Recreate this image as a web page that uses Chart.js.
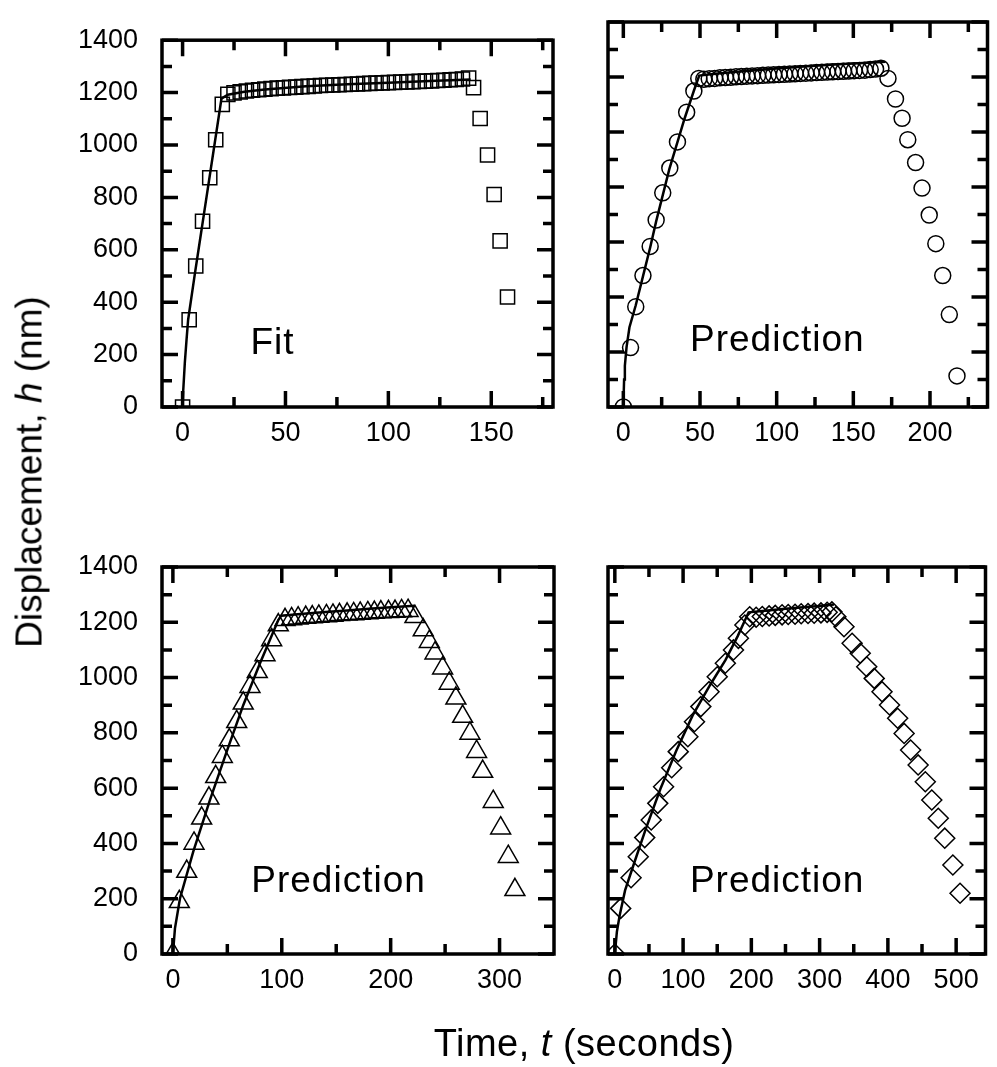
<!DOCTYPE html>
<html>
<head>
<meta charset="utf-8">
<script src="https://cdn.jsdelivr.net/npm/chart.js@4.4.0/dist/chart.umd.min.js"></script>
<style>
  body { margin: 0; background: #fff; }
  #page { position: relative; width: 997px; height: 1067px; overflow: hidden;
          font-family: "Liberation Sans", Arial, sans-serif; }
  #page canvas { position: absolute; left: 0; top: 0; }
  .title { position: absolute; white-space: nowrap; font-size: 37px; color: #000; line-height: 1; }
  #ytitle { left: 29px; top: 472px; transform: translate(-50%, -50%) rotate(-90deg); }
  #xtitle { left: 584px; top: 1043px; transform: translate(-50%, -50%); font-size: 38px; letter-spacing: 0.5px; }
</style>
</head>
<body>
<div id="page">
  <canvas id="c1" width="997" height="1067"></canvas>
  <canvas id="c2" width="997" height="1067"></canvas>
  <canvas id="c3" width="997" height="1067"></canvas>
  <canvas id="c4" width="997" height="1067"></canvas>
  <div class="title" id="ytitle">Displacement, <i>h</i> (nm)</div>
  <div class="title" id="xtitle">Time, <i>t</i> (seconds)</div>
</div>
<script>
// ---- tick values ----
const yMajor = [0, 200, 400, 600, 800, 1000, 1200, 1400];
const yMinor = [100, 300, 500, 700, 900, 1100, 1300];
const tlXMajor = [0, 50, 100, 150];
const tlXMinor = [25, 75, 125, 175];
const trXMajor = [0, 50, 100, 150, 200];
const trXMinor = [25, 75, 125, 175, 225];
const blXMajor = [0, 100, 200, 300];
const blXMinor = [50, 150, 250];
const brXMajor = [0, 100, 200, 300, 400, 500];
const brXMinor = [50, 150, 250, 350, 450];

// ---- top left: fit (squares) ----
const tlTime = [0, 3.2, 6.4, 9.7, 13.2, 16.1, 19.3,
  22, 25, 28, 31, 34, 37, 40, 43, 46, 49, 52, 55, 58, 61, 64, 67, 70, 73, 76, 79,
  82, 85, 88, 91, 94, 97, 100, 103, 106, 109, 112, 115, 118, 121, 124, 127, 130, 133, 136, 139,
  141.4, 144.6, 148.2, 151.4, 154.3, 157.9];
const tlDisp = [0, 333, 538, 709, 875, 1020, 1155,
  1193, 1199, 1203, 1206, 1209, 1211, 1213, 1215, 1217, 1218, 1220, 1221, 1223, 1224, 1225, 1227, 1228, 1229, 1230, 1231,
  1232, 1233, 1234, 1235, 1236, 1237, 1238, 1239, 1240, 1241, 1242, 1243, 1244, 1245, 1246, 1247, 1249, 1250, 1252, 1255,
  1219, 1101, 962, 811, 634, 420];
const tlLineTime = [0, 0.3, 1.1, 1.9, 2.7, 6, 9, 12, 15, 18.9, 22, 30, 40, 60, 80, 100, 120, 140];
const tlLineDisp = [0, 60, 170, 254, 333, 510, 665, 820, 975, 1177, 1192, 1203, 1212, 1224, 1232, 1238, 1244, 1250];

// ---- top right: prediction (circles) ----
const trTime = [0, 4.7, 8.1, 12.8, 17.5, 21.4, 25.7, 30.3, 35.3, 41.3, 46, 49.2,
  52.5, 56, 59.5, 63, 66.5, 70, 73.5, 77, 80.5, 84, 87.5, 91, 94.5, 98, 101.5, 105, 108.5,
  112, 115.5, 119, 122.5, 126, 129.5, 133, 136.5, 140, 143.5, 147, 150.5, 154, 157.5, 161, 164.5, 168,
  172.6, 177.5, 181.8, 185.5, 190.6, 194.8, 199.5, 203.8, 208.3, 212.6, 217.6];
const trDisp = [0, 216, 365, 478, 584, 680, 779, 869, 964, 1072, 1149, 1195,
  1192, 1194, 1195, 1197, 1198, 1199, 1201, 1202, 1203, 1204, 1205, 1206, 1207, 1208, 1209, 1210, 1211,
  1212, 1213, 1214, 1215, 1216, 1217, 1218, 1219, 1220, 1221, 1222, 1223, 1224, 1225, 1227, 1229, 1232,
  1195, 1120, 1050, 972, 889, 796, 698, 594, 478, 336, 113];
const trLineTime = [0, 0.5, 1, 2.1, 4, 8.1, 12.8, 17.5, 21.4, 30, 40, 46, 49.5, 60, 80, 100, 120, 140, 160, 171];
const trLineDisp = [0, 100, 150, 218, 290, 370, 475, 580, 675, 865, 1050, 1150, 1205, 1212, 1222, 1231, 1239, 1246, 1252, 1255];

// ---- bottom left: prediction (triangles) ----
const blTime = [0, 5.9, 12.7, 19.4, 26.4, 33.1, 39.3, 45.4, 51.8, 58.6, 64.6, 70.8, 77.5, 84.6, 90.7, 96.8,
  103, 109, 115, 122, 128, 134, 141, 147, 153, 160, 166, 172, 179, 185, 191, 198, 204, 210, 216,
  222.3, 229.9, 235.5, 240.7, 247.7, 253.8, 259.9, 266.1, 272.8, 278.9, 284.5, 294.2, 301, 308, 314.1];
const blDisp = [0, 189, 298, 400, 491, 563, 641, 714, 774, 840, 907, 967, 1021, 1082, 1136, 1190,
  1209, 1212, 1215, 1217, 1219, 1221, 1223, 1225, 1227, 1229, 1230, 1232, 1234, 1235, 1237, 1238, 1239, 1241, 1242,
  1220, 1172, 1130, 1088, 1034, 979, 925, 859, 798, 732, 660, 551, 455, 352, 232];
const blLineTime = [0, 1.9, 6.5, 18.7, 34, 49.4, 64.7, 80, 96.8, 99.5, 120, 140, 160, 180, 200, 222];
const blLineDisp = [0, 93, 201, 370, 557, 732, 901, 1052, 1208, 1224, 1231, 1237, 1243, 1249, 1254, 1260];

// ---- bottom right: prediction (diamonds) ----
const brTime = [0, 8.6, 23.8, 34.3, 43.8, 53.3, 62.9, 71.4, 83.3, 92.9, 107, 116.7, 126, 138, 150, 161.9, 173.8, 181, 190.5, 197.6,
  207, 216, 226, 235, 245, 254, 264, 273, 283, 292, 302, 311, 318,
  323.8, 335.7, 347.6, 359.5, 369, 380, 391.4, 402.4, 414.3, 423.8, 433.3, 444.3, 454.8, 464.3, 473.8, 483.3, 495.2, 505.7];
const brDisp = [0, 165, 276, 352, 421, 485, 545, 605, 674, 732, 786, 840, 895, 949, 1003, 1052, 1100, 1142, 1190, 1220,
  1218, 1221, 1223, 1225, 1227, 1228, 1229, 1231, 1232, 1233, 1234, 1236, 1238,
  1220, 1184, 1124, 1088, 1039, 997, 949, 901, 853, 798, 738, 684, 623, 557, 491, 419, 322, 220];
const brLineTime = [0, 3, 7, 15, 28.6, 45, 66.7, 90, 114, 140, 162, 180, 196, 220, 250, 280, 300, 321];
const brLineDisp = [0, 80, 138, 230, 331, 450, 597, 735, 863, 975, 1063, 1150, 1236, 1242, 1249, 1255, 1259, 1264];

const zip = (xs, ys) => xs.map((x, i) => ({ x, y: ys[i] }));

const panels = [
  { id: 'c1', area: [162, 22, 553, 407], xMin: -10, xMax: 180, yLabels: true,
    xMajor: tlXMajor, xMinor: tlXMinor, style: 'rect', radius: 10,
    pts: zip(tlTime, tlDisp), line: zip(tlLineTime, tlLineDisp), label: 'Fit', labelAt: [33, 203] },
  { id: 'c2', area: [608, 22, 995, 407], xMin: -10, xMax: 237.5, yLabels: false,
    xMajor: trXMajor, xMinor: trXMinor, style: 'circle', radius: 8,
    pts: zip(trTime, trDisp), line: zip(trLineTime, trLineDisp), label: 'Prediction', labelAt: [43.5, 203] },
  { id: 'c3', area: [162, 567, 554, 954], xMin: -10, xMax: 350, yLabels: true,
    xMajor: blXMajor, xMinor: blXMinor, style: 'triangle', radius: 11.5,
    pts: zip(blTime, blDisp), line: zip(blLineTime, blLineDisp), label: 'Prediction', labelAt: [72, 225] },
  { id: 'c4', area: [608, 567, 995, 954], xMin: -10, xMax: 543, yLabels: false,
    xMajor: brXMajor, xMinor: brXMinor, style: 'rectRot', radius: 10,
    pts: zip(brTime, brDisp), line: zip(brLineTime, brLineDisp), label: 'Prediction', labelAt: [110, 225] },
];

const W = 997, H = 1067, XAXIS_H = 50;
const TICK_FONT = { family: '"Liberation Sans", Arial, sans-serif', size: 27 };

function frameTicks(p) {
  return {
    id: 'frameTicks',
    afterDatasetsDraw(chart) {
      const { ctx, chartArea: a } = chart;
      const x = chart.scales.x, y = chart.scales.y;
      ctx.save();
      ctx.strokeStyle = '#000';
      ctx.lineCap = 'butt';
      const mark = (vals, len, horiz) => {
        ctx.lineWidth = 3.5;
        ctx.beginPath();
        vals.forEach(v => {
          if (horiz) {
            const px = x.getPixelForValue(v);
            ctx.moveTo(px, a.bottom); ctx.lineTo(px, a.bottom - len);
            ctx.moveTo(px, a.top); ctx.lineTo(px, a.top + len);
          } else {
            const py = y.getPixelForValue(v);
            ctx.moveTo(a.left, py); ctx.lineTo(a.left + len, py);
            ctx.moveTo(a.right, py); ctx.lineTo(a.right - len, py);
          }
        });
        ctx.stroke();
      };
      mark(p.xMajor, 16, true);
      mark(p.xMinor, 10, true);
      mark(yMajor, 16, false);
      mark(yMinor, 10, false);
      ctx.lineWidth = 3.5;
      ctx.strokeRect(a.left, a.top, a.right - a.left, a.bottom - a.top);
      ctx.fillStyle = '#000';
      ctx.font = '37px "Liberation Sans", Arial, sans-serif';
      ctx.letterSpacing = '1px';
      ctx.textBaseline = 'alphabetic';
      ctx.fillText(p.label, x.getPixelForValue(p.labelAt[0]), y.getPixelForValue(p.labelAt[1]));
      ctx.restore();
    }
  };
}

panels.forEach(p => {
  const [l, t, r, b] = p.area;
  const yw = p.yLabels ? 162 : 20;
  new Chart(document.getElementById(p.id), {
    type: 'scatter',
    data: {
      datasets: [
        { data: p.line, showLine: true, borderColor: '#000', borderWidth: 2.5,
          pointRadius: 0, tension: 0, clip: 0 },
        { data: p.pts, showLine: false, pointStyle: p.style, pointRadius: p.radius,
          borderColor: '#000', backgroundColor: 'rgba(0,0,0,0)', pointBorderWidth: 1.5, clip: 0 },
      ]
    },
    options: {
      responsive: false,
      animation: false,
      events: [],
      layout: { padding: { left: l - yw, top: t, right: W - r, bottom: H - b - XAXIS_H } },
      plugins: { legend: { display: false }, tooltip: { enabled: false } },
      scales: {
        x: {
          type: 'linear', position: 'bottom', min: p.xMin, max: p.xMax,
          grid: { display: false, drawTicks: false }, border: { display: false },
          ticks: { color: '#000', font: TICK_FONT, padding: 10, maxRotation: 0,
                   callback: v => String(v) },
          afterBuildTicks: s => { s.ticks = p.xMajor.map(v => ({ value: v })); },
          afterFit: s => { s.height = XAXIS_H; },
        },
        y: {
          type: 'linear', position: 'left', min: 0, max: 1400,
          grid: { display: false, drawTicks: false }, border: { display: false },
          ticks: { display: p.yLabels, color: '#000', font: TICK_FONT, padding: 24,
                   callback: v => String(v) },
          afterBuildTicks: s => { s.ticks = yMajor.map(v => ({ value: v })); },
          afterFit: s => { s.width = yw; },
        }
      }
    },
    plugins: [frameTicks(p)]
  });
});
</script>
</body>
</html>
